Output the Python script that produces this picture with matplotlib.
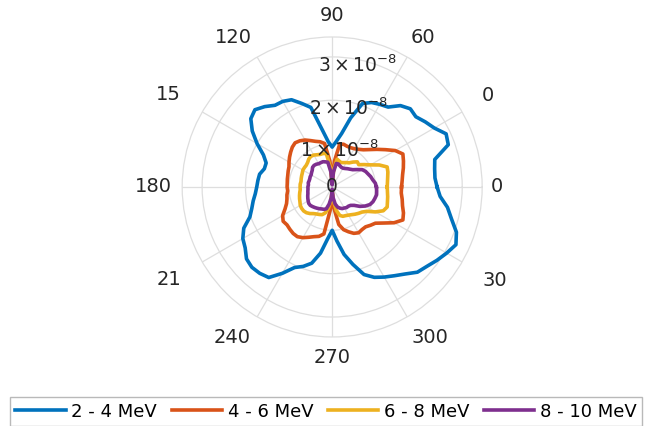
import numpy as np
import matplotlib.pyplot as plt

# angles (deg) every 5 degrees, radii in units of 1e-8
angles = np.arange(0, 360, 5)

r_2_4 = [2.42, 2.38, 2.40, 2.45, 2.85, 2.90, 2.72, 2.62, 2.52, 2.55, 2.45, 2.25,
         2.20, 2.15, 2.05, 1.65, 1.25, 1.05, 0.92, 1.05, 1.35, 1.90, 2.05, 2.22,
         2.28, 2.30, 2.42, 2.52, 2.45, 2.25, 2.00, 1.75, 1.62, 1.62, 1.70, 1.72,
         1.74, 1.78, 1.85, 1.92, 2.02, 2.25, 2.38, 2.45, 2.58, 2.62, 2.60, 2.55,
         2.30, 2.05, 1.95, 1.82, 1.55, 1.20, 1.00, 1.25, 1.58, 1.85, 2.15, 2.30,
         2.40, 2.50, 2.62, 2.78, 2.85, 2.95, 3.05, 3.15, 3.05, 2.85, 2.70, 2.50]

r_4_6 = [1.60, 1.62, 1.65, 1.70, 1.75, 1.80, 1.68, 1.50, 1.35, 1.22, 1.12, 1.06,
         1.02, 1.00, 1.00, 1.02, 1.00, 0.60, 0.12, 0.60, 1.02, 1.08, 1.12, 1.18,
         1.25, 1.30, 1.33, 1.30, 1.25, 1.20, 1.15, 1.10, 1.08, 1.06, 1.05, 1.04,
         1.04, 1.03, 1.06, 1.08, 1.12, 1.20, 1.32, 1.38, 1.36, 1.38, 1.40, 1.40,
         1.35, 1.28, 1.22, 1.18, 1.10, 0.55, 0.12, 0.50, 0.88, 1.02, 1.10, 1.18,
         1.22, 1.20, 1.20, 1.25, 1.30, 1.45, 1.65, 1.80, 1.75, 1.68, 1.64, 1.60]

r_6_8 = [1.27, 1.28, 1.30, 1.33, 1.35, 1.20, 1.02, 0.90, 0.80, 0.82, 0.75, 0.68,
         0.65, 0.62, 0.60, 0.62, 0.65, 0.40, 0.08, 0.45, 0.78, 0.80, 0.80, 0.82,
         0.85, 0.86, 0.84, 0.80, 0.78, 0.78, 0.78, 0.76, 0.75, 0.74, 0.73, 0.74,
         0.74, 0.74, 0.76, 0.78, 0.80, 0.82, 0.85, 0.86, 0.86, 0.84, 0.80, 0.75,
         0.72, 0.70, 0.68, 0.62, 0.50, 0.30, 0.08, 0.30, 0.55, 0.68, 0.72, 0.73,
         0.75, 0.78, 0.82, 0.86, 0.90, 0.98, 1.15, 1.30, 1.35, 1.32, 1.30, 1.28]

r_8_10 = [1.02, 1.00, 0.95, 0.92, 0.88, 0.85, 0.80, 0.70, 0.62, 0.58, 0.55, 0.52,
          0.50, 0.50, 0.52, 0.55, 0.55, 0.35, 0.05, 0.35, 0.58, 0.60, 0.62, 0.62,
          0.62, 0.64, 0.65, 0.64, 0.60, 0.58, 0.56, 0.56, 0.55, 0.55, 0.56, 0.55,
          0.56, 0.56, 0.57, 0.58, 0.60, 0.62, 0.64, 0.66, 0.66, 0.64, 0.62, 0.60,
          0.58, 0.56, 0.55, 0.52, 0.40, 0.25, 0.05, 0.25, 0.40, 0.48, 0.52, 0.55,
          0.56, 0.58, 0.58, 0.60, 0.66, 0.78, 0.88, 0.96, 1.00, 1.02, 1.04, 1.03]

series = [r_2_4, r_4_6, r_6_8, r_8_10]
labels = ['2 - 4 MeV', '4 - 6 MeV', '6 - 8 MeV', '8 - 10 MeV']
colors = ['#0072BD', '#D95319', '#EDB120', '#7E2F8E']

r_ticks = [0, 1e-8, 2e-8, 3e-8]
r_tick_labels = ['0', r'$1\times10^{-8}$', r'$2\times10^{-8}$', r'$3\times10^{-8}$']
theta_ticks = [0, 30, 60, 90, 120, 150, 180, 210, 240, 270, 300, 330]
theta_tick_labels = ['0', '0', '60', '90', '120', '15', '180', '21', '240', '270', '300', '30']

plt.rcParams['mathtext.fontset'] = 'dejavusans'

fig = plt.figure(figsize=(6.46, 4.26), dpi=100)
ax = fig.add_axes([0.282, 0.209, 0.4644, 0.7042], projection='polar')

th = np.deg2rad(np.append(angles, angles[0]))
for r, lab, c in zip(series, labels, colors):
    rr = np.array(r + [r[0]]) * 1e-8
    ax.plot(th, rr, color=c, lw=2.6, label=lab)

rmax = 3.46e-8
ax.set_ylim(0, rmax)
ax.set_yticks(r_ticks)
ax.set_yticklabels([])
ax.set_xticks(np.deg2rad(theta_ticks))
ax.set_xticklabels([])
ax.grid(True, color='#dedede', lw=0.9)
ax.spines['polar'].set_color('#dedede')
ax.spines['polar'].set_linewidth(0.9)

# r tick labels along ~78 degrees
for rv, txt in zip(r_ticks, r_tick_labels):
    if rv == 0:
        ax.text(0, 0, txt, ha='center', va='center', fontsize=13.5, color='#262626')
    else:
        ax.text(np.deg2rad(78), rv - 0.14e-8, txt, ha='center', va='center',
                fontsize=13.5, color='#262626')

# theta labels (angle, radius in px of a 150 px ring)
label_pos = [(0, 165), (30.5, 181), (58.6, 175), (90, 171), (123.6, 179), (150.7, 188),
             (180, 179), (209.6, 188), (236.5, 181), (270, 171), (303, 180), (330, 188)]
for (a, rp), txt in zip(label_pos, theta_tick_labels):
    x = 0.5 + rp * np.cos(np.deg2rad(a)) / 300
    y = 0.5 + rp * np.sin(np.deg2rad(a)) / 300
    ax.text(x, y, txt, transform=ax.transAxes, ha='center', va='center',
            fontsize=14, color='#262626', clip_on=False)

leg = fig.legend(loc='lower left', bbox_to_anchor=(10 / 646, 0.0), ncol=4,
                 fontsize=13, handlelength=2.8, handletextpad=0.3, columnspacing=0.8,
                 borderpad=0.3, borderaxespad=0.0, fancybox=False, frameon=True)
leg.get_frame().set_edgecolor('#a8a8a8')
leg.get_frame().set_linewidth(1.0)

fig.savefig('out.png', dpi=100)
